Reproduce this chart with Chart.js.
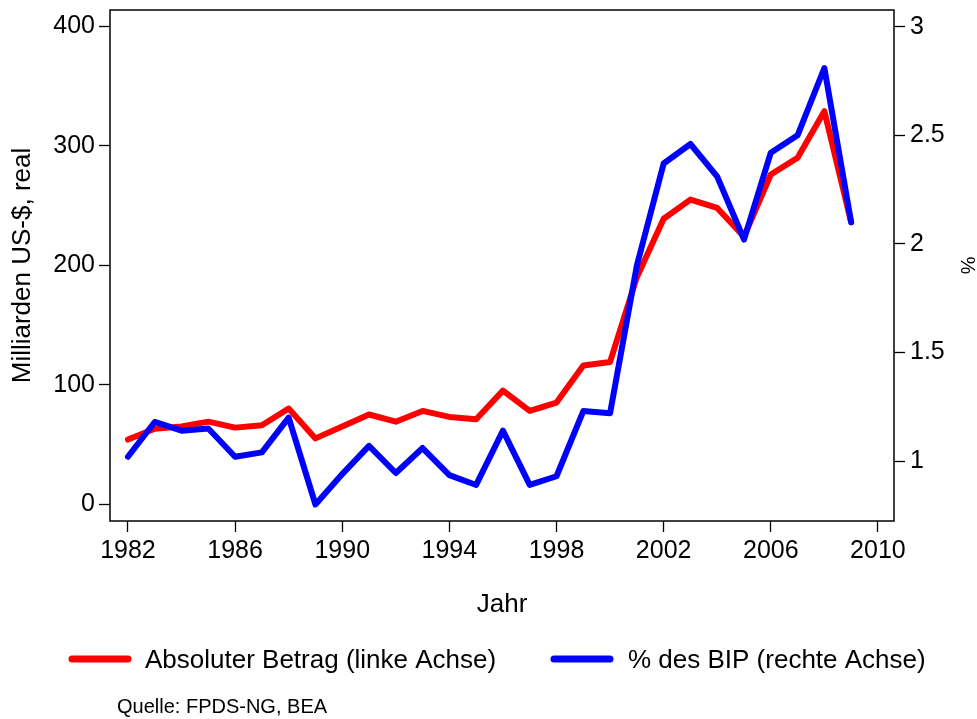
<!DOCTYPE html>
<html>
<head>
<meta charset="utf-8">
<script src="https://cdn.jsdelivr.net/npm/chart.js@4"></script>
<style>
  body { margin: 0; background: #fff; }
  #wrap { width: 977px; height: 719px; }
</style>
</head>
<body>
<div id="wrap"><canvas id="chart" width="977" height="719"></canvas></div>
<script>
// Daten
const jahre = [1982, 1983, 1984, 1985, 1986, 1987, 1988, 1989, 1990, 1991, 1992, 1993, 1994, 1995,
  1996, 1997, 1998, 1999, 2000, 2001, 2002, 2003, 2004, 2005, 2006, 2007, 2008, 2009];
const betrag = [54, 63, 65, 69, 64, 66, 80, 55, 65, 75, 69, 78, 73, 71,
  95, 78, 85, 116, 119, 190, 239, 255, 248, 224, 276, 290, 329, 236];
const bipAnteil = [1.02, 1.18, 1.14, 1.15, 1.02, 1.04, 1.20, 0.80, 0.94, 1.07, 0.945, 1.06, 0.935, 0.89,
  1.14, 0.89, 0.93, 1.23, 1.22, 1.90, 2.37, 2.46, 2.31, 2.02, 2.42, 2.50, 2.81, 2.10];
const xTicks = [1982, 1986, 1990, 1994, 1998, 2002, 2006, 2010];
const linksTicks = [0, 100, 200, 300, 400];
const rechtsTicks = [1, 1.5, 2, 2.5, 3];

Chart.defaults.font.family = "'Liberation Sans', Arial, sans-serif";
Chart.defaults.color = '#000';

const tickGrid = {
  drawOnChartArea: false,
  drawTicks: true,
  tickLength: 11,
  tickColor: '#000',
  tickWidth: 1.3
};

// Rahmen, Legende und Quelle
const extras = {
  id: 'extras',
  afterDraw(chart) {
    const ctx = chart.ctx;
    const a = chart.chartArea;
    ctx.save();
    ctx.strokeStyle = '#000';
    ctx.lineWidth = 1.5;
    ctx.strokeRect(a.left, a.top, a.right - a.left, a.bottom - a.top);

    const items = [
      { color: '#ff0000', text: 'Absoluter Betrag (linke Achse)', x0: 72, x1: 128, tx: 145 },
      { color: '#0000ff', text: '% des BIP (rechte Achse)', x0: 554, x1: 610, tx: 628 }
    ];
    ctx.lineCap = 'round';
    ctx.lineWidth = 7;
    ctx.font = "26px 'Liberation Sans', Arial, sans-serif";
    ctx.textBaseline = 'middle';
    ctx.textAlign = 'left';
    items.forEach(it => {
      ctx.strokeStyle = it.color;
      ctx.beginPath();
      ctx.moveTo(it.x0, 659);
      ctx.lineTo(it.x1, 659);
      ctx.stroke();
      ctx.fillStyle = '#000';
      ctx.fillText(it.text, it.tx, 661);
    });

    ctx.font = "20px 'Liberation Sans', Arial, sans-serif";
    ctx.fillText('Quelle: FPDS-NG, BEA', 117, 707);
    ctx.restore();
  }
};

// feste Achsenbreiten, kein Zusatzrand durch Beschriftungen
function fixY(width) {
  return s => {
    s.width = width;
    s.paddingTop = 0;
    s.paddingBottom = 0;
  };
}

const ctx = document.getElementById('chart').getContext('2d');
const chart = new Chart(ctx, {
  type: 'line',
  data: {
    datasets: [
      {
        label: 'Absoluter Betrag (linke Achse)',
        data: jahre.map((j, i) => ({ x: j, y: betrag[i] })),
        borderColor: '#ff0000',
        borderWidth: 6,
        borderJoinStyle: 'round',
        borderCapStyle: 'round',
        pointRadius: 0,
        tension: 0,
        yAxisID: 'y',
        order: 1
      },
      {
        label: '% des BIP (rechte Achse)',
        data: jahre.map((j, i) => ({ x: j, y: bipAnteil[i] })),
        borderColor: '#0000ff',
        borderWidth: 6,
        borderJoinStyle: 'round',
        borderCapStyle: 'round',
        pointRadius: 0,
        tension: 0,
        yAxisID: 'y1',
        order: 0
      }
    ]
  },
  options: {
    responsive: false,
    animation: false,
    layout: { padding: { top: 10, left: 0, right: 0, bottom: 0 } },
    plugins: {
      legend: { display: false },
      tooltip: { enabled: false }
    },
    scales: {
      x: {
        type: 'linear',
        position: 'bottom',
        min: 1981.33,
        max: 2010.6,
        grid: tickGrid,
        border: { display: false },
        afterBuildTicks: s => { s.ticks = xTicks.map(v => ({ value: v })); },
        afterFit: s => { s.height = 198; s.paddingLeft = 0; s.paddingRight = 0; },
        ticks: {
          autoSkip: false,
          maxRotation: 0,
          padding: 4,
          font: { size: 25 },
          callback: v => String(v)
        },
        title: {
          display: true,
          text: 'Jahr',
          font: { size: 26 },
          padding: { top: 0, bottom: 99 }
        }
      },
      y: {
        type: 'linear',
        position: 'left',
        min: -14.2,
        max: 413.8,
        grid: tickGrid,
        border: { display: false },
        afterBuildTicks: s => { s.ticks = linksTicks.map(v => ({ value: v })); },
        afterFit: fixY(110),
        ticks: {
          padding: 4,
          font: { size: 25 },
          callback: v => String(v)
        },
        title: {
          display: true,
          text: 'Milliarden US-$, real',
          font: { size: 26 },
          padding: { top: 7, bottom: 0 }
        }
      },
      y1: {
        type: 'linear',
        position: 'right',
        min: 0.724,
        max: 3.077,
        grid: tickGrid,
        border: { display: false },
        afterBuildTicks: s => { s.ticks = rechtsTicks.map(v => ({ value: v })); },
        afterFit: fixY(83),
        ticks: {
          padding: 5,
          font: { size: 25 },
          callback: v => String(v)
        },
        title: {
          display: true,
          text: '%',
          font: { size: 20, lineHeight: 1 },
          padding: { top: 0, bottom: 0 }
        }
      }
    }
  },
  plugins: [extras]
});
</script>
</body>
</html>
